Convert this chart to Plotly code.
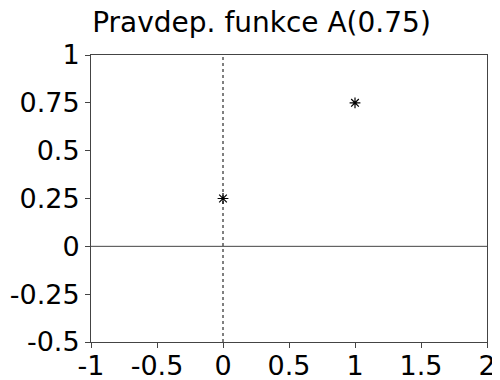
import plotly.graph_objects as go

title_text = "Pravdep. funkce A(0.75)"
x_vals = [0, 1]
p_vals = [0.25, 0.75]
x_ticks = [-1, -0.5, 0, 0.5, 1, 1.5, 2]
y_ticks = [-0.5, -0.25, 0, 0.25, 0.5, 0.75, 1]

FONT = "DejaVu Sans"
OFF = 8  # page body margin

fig = go.Figure()
fig.add_trace(go.Scatter(
    x=x_vals, y=p_vals, mode="markers",
    marker=dict(symbol="asterisk-open", size=9, color="black",
                line=dict(color="black", width=1.2)),
    showlegend=False,
))

fig.add_shape(type="line", xref="x", yref="paper", x0=0, x1=0, y0=0, y1=1,
              line=dict(color="black", width=1, dash="dot"))
fig.add_shape(type="line", xref="paper", yref="y", x0=0, x1=1, y0=0, y1=0,
              line=dict(color="#444", width=1))

W, H = 500 - OFF, 380 - OFF
fig.update_layout(
    width=W, height=H,
    margin=dict(l=91 - OFF, r=13, t=55 - OFF, b=38, autoexpand=False),
    paper_bgcolor="white", plot_bgcolor="white",
    font=dict(family=FONT, color="black", size=27),
    title=dict(text=title_text, x=(261.5 - OFF) / W, xanchor="center", xref="container",
               y=1 - (22 - OFF) / H, yanchor="middle", yref="container",
               font=dict(family=FONT, size=28, color="black")),
    xaxis=dict(range=[-1, 2], tickvals=x_ticks, ticktext=[f"{v:g}" for v in x_ticks],
               showgrid=False, zeroline=False, showline=True, mirror=True,
               linecolor="#444", linewidth=1, ticks="outside", ticklen=5,
               tickcolor="#444", tickfont=dict(size=27, family=FONT),
               ticklabelstandoff=-5, automargin=False),
    yaxis=dict(range=[-0.5, 1], tickvals=y_ticks, ticktext=[f"{v:g}" for v in y_ticks],
               showgrid=False, zeroline=False, showline=True, mirror=True,
               linecolor="#444", linewidth=1, ticks="outside", ticklen=5,
               tickcolor="#444", tickfont=dict(size=27, family=FONT),
               automargin=False),
)

fig.write_html("out.html")
